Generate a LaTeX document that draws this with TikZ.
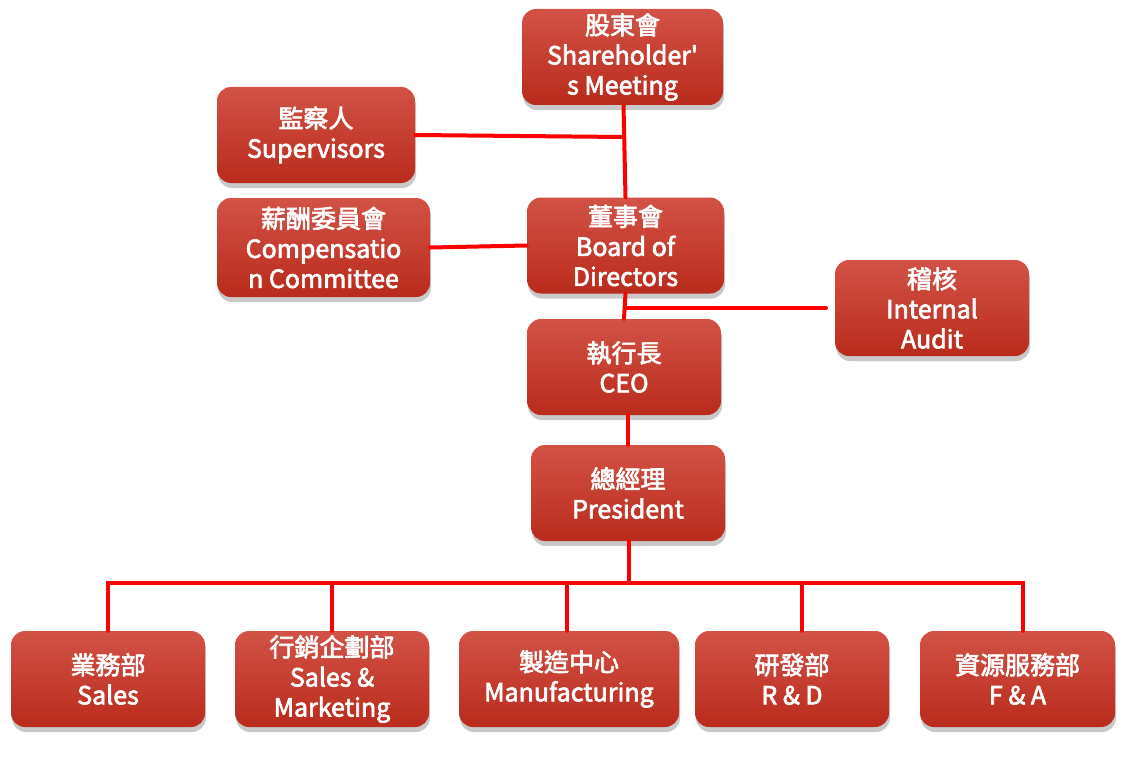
\documentclass[tikz,border=0pt]{standalone}
\usepackage{fontspec}
\newfontfamily\jh{Noto Sans CJK TC}[FakeBold=2.6]
\usetikzlibrary{shadows,calc}
\definecolor{boxtop}{RGB}{210,82,70}
\definecolor{boxbot}{RGB}{185,43,28}
\tikzset{
  box/.style={rounded corners=14pt, top color=boxtop, bottom color=boxbot, draw=none,
    text=white, align=center, inner sep=0pt,
    font=\jh\fontsize{25}{30}\selectfont,
    execute at begin node={\rule{0pt}{27pt}},
    drop shadow={shadow xshift=1pt, shadow yshift=-5pt, opacity=0.3, fill=black!70}},
  conn/.style={draw=red, line width=4pt, line cap=round}
}
\begin{document}
\begin{tikzpicture}[x=1pt,y=-1pt]
\useasboundingbox (0,0) rectangle (1126,757);
% nodes
\node[box, minimum width=201, minimum height=96] (share) at (622.5,57) {股東會\\Shareholder'\\s Meeting};
\node[box, minimum width=198, minimum height=96] (sup) at (316,135) {監察人\\Supervisors};
\node[box, minimum width=213, minimum height=99] (comp) at (323.5,247.5) {薪酬委員會\\Compensatio\\n Committee};
\node[box, minimum width=197, minimum height=96] (board) at (625.5,245.5) {董事會\\Board of\\Directors};
\node[box, minimum width=194, minimum height=96] (audit) at (932,308) {稽核\\Internal\\Audit};
\node[box, minimum width=194, minimum height=96] (ceo) at (624,367) {執行長\\CEO};
\node[box, minimum width=194, minimum height=96] (pres) at (628,493) {總經理\\President};
\node[box, minimum width=194, minimum height=96] (sales) at (108,679) {業務部\\Sales};
\node[box, minimum width=194, minimum height=96] (mkt) at (332,679) {行銷企劃部\\Sales \&\\Marketing};
\node[box, minimum width=220, minimum height=96] (mfg) at (569,679) {製造中心\\Manufacturing};
\node[box, minimum width=194, minimum height=96] (rd) at (792,679) {研發部\\R \& D};
\node[box, minimum width=195, minimum height=96] (fa) at (1017.5,679) {資源服務部\\F \& A};
% junction coordinates
\coordinate (j1) at (624,137);
\coordinate (j2) at (625,308);
\coordinate (bus) at (629,583);
\coordinate (auditend) at (826,308);
% connectors
\draw[conn] ([xshift=1pt]share.south) -- (board.north);
\draw[conn] (sup.east) -- (j1);
\draw[conn] (comp.east) -- (board.west);
\draw[conn] (board.south) -- (ceo.north);
\draw[conn] (j2) -- (auditend);
\draw[conn] ([xshift=4pt]ceo.south) -- (pres.north);
\draw[conn] ([xshift=1pt]pres.south) -- (bus);
\draw[conn] (sales.north) -- (sales.north |- bus) -- ([xshift=5pt]fa.north |- bus) -- ([xshift=5pt]fa.north);
\draw[conn] (mkt.north) -- (mkt.north |- bus);
\draw[conn] ([xshift=-2pt]mfg.north) -- ([xshift=-2pt]mfg.north |- bus);
\draw[conn] ([xshift=10pt]rd.north) -- ([xshift=10pt]rd.north |- bus);
\end{tikzpicture}
\end{document}
